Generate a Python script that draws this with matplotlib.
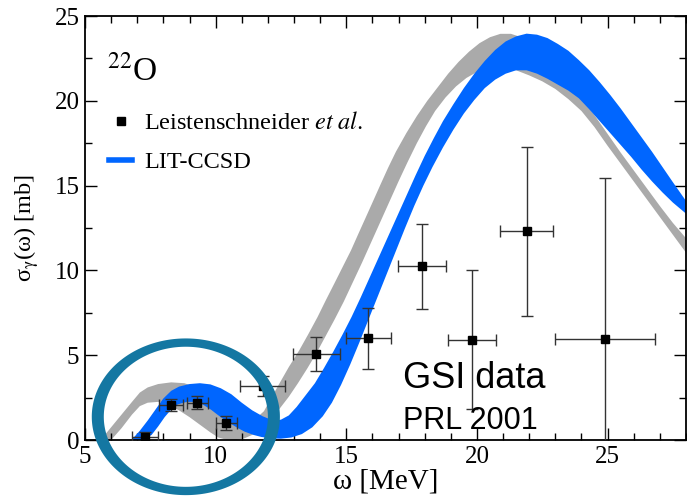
import numpy as np
import matplotlib
matplotlib.use('Agg')
import matplotlib.pyplot as plt
from matplotlib.lines import Line2D
from matplotlib.patches import PathPatch
from matplotlib.path import Path
from matplotlib.ticker import MultipleLocator

plt.rcParams['font.family'] = ['Liberation Serif', 'DejaVu Serif']
plt.rcParams['mathtext.fontset'] = 'stix'

# GSI data (Leistenschneider et al.)
data_x = [7.3, 8.3, 9.3, 10.4, 11.8, 13.85, 15.85, 17.9, 19.8, 21.9, 24.9]
data_y = [0.15, 2.06, 2.2, 1.0, 3.2, 5.06, 6.0, 10.25, 5.9, 12.3, 5.95]
data_xerr = [0.5, 0.45, 0.4, 0.4, 0.86, 0.9, 0.86, 0.92, 0.92, 1.0, 1.9]
data_yerr = [0.3, 0.35, 0.4, 0.4, 0.6, 1.0, 1.8, 2.5, 4.1, 5.0, 9.5]

# gray band (other calculation): upper edge
gray_up_x = [5.6, 6.0, 6.4, 6.8, 7.1, 7.4, 7.8, 8.3, 8.8, 9.2, 9.6, 10.0, 10.4, 10.8,
             11.1, 11.35, 11.6, 11.85, 12.1, 12.44, 12.8, 13.2, 13.55, 13.9, 14.22,
             14.54, 14.86, 15.18, 15.46, 15.75, 16.03, 16.32, 16.6, 16.9, 17.3, 17.7,
             18.1, 18.5, 18.9, 19.3, 19.7, 20.1, 20.5, 20.9, 21.3, 21.7, 22.1, 22.5,
             22.9, 23.3, 23.7, 24.0, 24.5, 25.0, 25.5, 26.0, 26.5, 27.0, 27.5, 28.0]
gray_up_y = [0.0, 0.75, 1.5, 2.25, 2.8, 3.1, 3.3, 3.4, 3.35, 3.15, 2.8, 2.35, 1.9, 1.5,
             1.3, 1.25, 1.35, 1.7, 2.4, 3.33, 4.3, 5.29, 6.25, 7.25, 8.25,
             9.22, 10.2, 11.18, 12.15, 13.14, 14.1, 15.1, 16.05, 17.0, 18.1, 19.1,
             20.0, 20.8, 21.6, 22.3, 22.9, 23.4, 23.75, 23.95, 23.95, 23.75, 23.35, 22.8,
             22.15, 21.45, 20.75, 20.2, 19.15, 18.05, 16.95, 15.9, 14.85, 13.8, 12.8, 11.9]
# gray band: lower edge
gray_lo_x = [6.0, 6.4, 6.8, 7.1, 7.4, 7.8, 8.2, 8.6, 9.0, 9.4, 9.8, 10.1, 10.4, 10.8,
             11.1, 11.4, 11.75, 12.1, 12.45, 12.8, 13.15, 13.5, 13.85, 14.2, 14.55, 14.9,
             15.25, 15.6, 15.95, 16.3, 16.65, 17.0, 17.35, 17.7, 18.05, 18.4, 18.8, 19.2,
             19.6, 20.0, 20.5, 21.0, 21.5, 22.0, 22.5, 23.0, 23.5, 24.0, 24.5, 25.0, 25.5,
             26.0, 26.5, 27.0, 27.5, 28.0]
gray_lo_y = [0.0, 0.7, 1.5, 2.0, 2.2, 2.25, 2.05, 1.75, 1.35, 0.9, 0.45, 0.15, 0.02, 0.0,
             0.1, 0.3, 0.7, 1.25, 1.85, 2.55, 3.35, 4.2, 5.1, 6.1, 7.1, 8.15,
             9.3, 10.45, 11.65, 12.85, 14.05, 15.25, 16.4, 17.5, 18.5, 19.4, 20.2, 20.85,
             21.35, 21.7, 21.9, 21.95, 21.8, 21.5, 21.15, 20.7, 20.1, 19.4, 18.45, 17.35,
             16.3, 15.25, 14.2, 13.15, 12.1, 11.05]

# LIT-CCSD band: upper edge
blue_up_x = [6.78, 7.1, 7.4, 7.7, 8.0, 8.3, 8.6, 9.0, 9.4, 9.8, 10.2, 10.6, 11.0, 11.4,
             11.8, 12.2, 12.5, 12.8, 13.1, 13.45, 13.8, 14.15, 14.5, 14.85, 15.2, 15.55,
             15.9, 16.25, 16.6, 16.95, 17.3, 17.65, 18.0, 18.35, 18.7, 19.1, 19.5, 19.9,
             20.3, 20.7, 21.1, 21.5, 21.9, 22.3, 22.7, 23.1, 23.5, 23.9, 24.3, 24.7, 25.1,
             25.5, 25.9, 26.3, 26.7, 27.1, 27.5, 28.0]
blue_up_y = [0.0, 0.55, 1.15, 1.8, 2.45, 2.9, 3.15, 3.3, 3.35, 3.28, 3.05, 2.7, 2.2, 1.75,
             1.4, 1.15, 1.2, 1.45, 1.95, 2.65, 3.35, 4.25, 5.2, 6.2, 7.25, 8.4,
             9.6, 10.8, 12.0, 13.2, 14.4, 15.6, 16.75, 17.8, 18.8, 19.8, 20.75, 21.6,
             22.35, 23.0, 23.5, 23.8, 23.96, 23.9, 23.7, 23.35, 22.95, 22.4, 21.8, 21.1,
             20.35, 19.55, 18.7, 17.85, 17.0, 16.1, 15.2, 14.1]
# LIT-CCSD band: lower edge
blue_lo_x = [7.2, 7.55, 7.8, 8.05, 8.3, 8.55, 8.9, 9.2, 9.5, 9.83, 10.15, 10.46, 10.8,
             11.1, 11.45, 11.75, 12.1, 12.5, 12.9, 13.3, 13.7, 14.1, 14.45, 14.8, 15.15,
             15.5, 15.85, 16.2, 16.55, 16.9, 17.25, 17.6, 17.95, 18.3, 18.7, 19.1, 19.5,
             19.9, 20.3, 20.7, 21.1, 21.5, 21.9, 22.3, 22.7, 23.1, 23.5, 23.9, 24.3, 24.7,
             25.1, 25.5, 25.9, 26.3, 26.7, 27.1, 27.5, 28.0]
blue_lo_y = [0.0, 0.3, 0.8, 1.35, 1.8, 2.1, 2.25, 2.25, 2.1, 1.78, 1.4, 1.08, 0.75,
             0.5, 0.3, 0.18, 0.1, 0.08, 0.15, 0.35, 0.75, 1.4, 2.2, 3.25, 4.45,
             5.75, 7.1, 8.45, 9.8, 11.15, 12.5, 13.8, 15.0, 16.1, 17.25, 18.3, 19.25,
             20.05, 20.75, 21.25, 21.6, 21.8, 21.8, 21.6, 21.3, 20.95, 20.6, 20.15, 19.5, 18.8,
             18.1, 17.4, 16.7, 15.95, 15.25, 14.6, 14.0, 13.35]

fig = plt.figure(figsize=(6.87, 4.99), dpi=100)
ax = fig.add_axes([0.1237, 0.1182, 0.8748, 0.8497])

ax.fill(np.concatenate([gray_up_x, gray_lo_x[::-1]]),
        np.concatenate([gray_up_y, gray_lo_y[::-1]]),
        color='#aaaaaa', lw=0, zorder=1)
ax.fill(np.concatenate([blue_up_x, blue_lo_x[::-1]]),
        np.concatenate([blue_up_y, blue_lo_y[::-1]]),
        color='#0066ff', lw=0, zorder=2)

ax.errorbar(data_x, data_y, xerr=data_xerr, yerr=data_yerr, fmt='s', color='black',
            ms=5.5, ecolor='#333333', elinewidth=1.0, capsize=4.5, capthick=1.0, zorder=3)

# hand-drawn style ring around the low-energy hump (thicker at the sides)
t = np.linspace(0, 2 * np.pi, 240)
cx, cy = 8.86, 1.37
outer = np.column_stack([cx + 3.6 * np.cos(t), cy + 4.62 * np.sin(t)])
inner = np.column_stack([cx + 3.14 * np.cos(t[::-1]), cy + 4.13 * np.sin(t[::-1])])
codes = [Path.MOVETO] + [Path.LINETO] * (len(t) - 2) + [Path.CLOSEPOLY]
ring = Path(np.concatenate([outer, inner]), codes + codes)
ax.add_patch(PathPatch(ring, facecolor='#1477a2', lw=0, clip_on=False, zorder=10))

ax.set_xlim(5, 28)
ax.set_ylim(0, 25)
ax.xaxis.set_major_locator(MultipleLocator(5))
ax.xaxis.set_minor_locator(MultipleLocator(1))
ax.yaxis.set_major_locator(MultipleLocator(5))
ax.yaxis.set_minor_locator(MultipleLocator(2.5))
ax.tick_params(which='both', direction='in', top=True, right=True, width=1.0,
               labelsize=18, pad=4)
ax.tick_params(which='major', length=8.5)
ax.tick_params(which='minor', length=5)
for s in ax.spines.values():
    s.set_linewidth(1.3)

ax.set_xlabel('ω [MeV]', fontsize=21, labelpad=1)
ax.set_ylabel('σ$_{\\mathrm{\\gamma}}$(ω) [mb]', fontsize=17.5, labelpad=10)

ax.text(0.037, 0.849, '$^{22}$O', transform=ax.transAxes, fontsize=24,
        va='baseline', ha='left')

handles = [Line2D([], [], ls='none', marker='s', color='black', ms=5.5),
           Line2D([], [], color='#0066ff', lw=4)]
labels = ['Leistenschneider $\\mathit{et\\ al.}$', 'LIT-CCSD']
ax.legend(handles, labels, loc='upper left', bbox_to_anchor=(0.04, 0.773),
          frameon=False, fontsize=17.5, handlelength=0.95, handletextpad=0.5,
          labelspacing=0.7, borderpad=0, borderaxespad=0)

ax.text(0.529, 0.1226, 'GSI data', transform=ax.transAxes, fontsize=26,
        family='Liberation Sans', va='baseline', ha='left', zorder=5)
ax.text(0.529, 0.026, 'PRL 2001', transform=ax.transAxes, fontsize=22,
        family='Liberation Sans', va='baseline', ha='left', zorder=5)

fig.savefig('out.png', dpi=100)
